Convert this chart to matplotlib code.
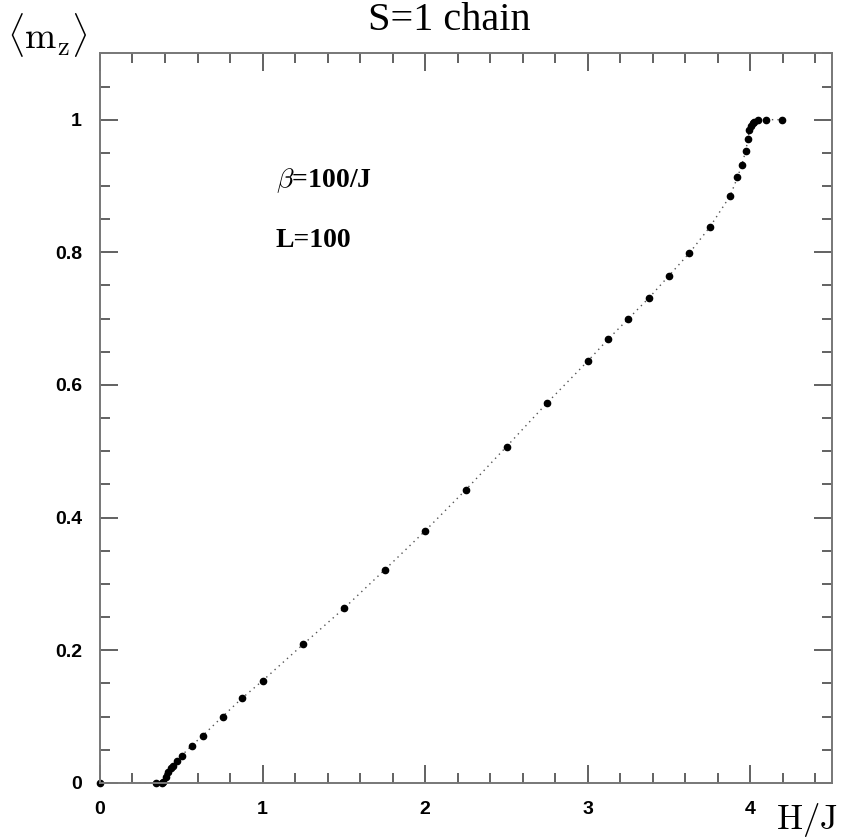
import matplotlib
matplotlib.use("Agg")
import matplotlib.pyplot as plt
from matplotlib.ticker import MultipleLocator, FormatStrFormatter

plt.rcParams["mathtext.fontset"] = "cm"

# magnetization curve of the S=1 chain, beta=100/J, L=100
field = [0.0, 0.344, 0.38, 0.389, 0.406, 0.42, 0.434, 0.45, 0.475, 0.502,
         0.563, 0.631, 0.754, 0.875, 1.0, 1.25, 1.5, 1.75, 2.0, 2.25,
         2.5, 2.75, 3.0, 3.125, 3.25, 3.375, 3.5, 3.625, 3.75, 3.875,
         3.92, 3.946, 3.971, 3.985, 3.993, 4.004, 4.014, 4.024, 4.047,
         4.096, 4.194]
mz = [0.0, 0.0, 0.0, 0.002, 0.009, 0.016, 0.022, 0.026, 0.033, 0.041,
      0.056, 0.071, 0.1, 0.128, 0.154, 0.209, 0.263, 0.321, 0.38, 0.442,
      0.507, 0.573, 0.636, 0.669, 0.7, 0.731, 0.765, 0.799, 0.838, 0.885,
      0.913, 0.931, 0.953, 0.971, 0.984, 0.991, 0.995, 0.997, 1.0,
      1.0, 1.0]

fig = plt.figure(figsize=(8.47, 8.4), dpi=100)
ax = fig.add_axes([0.118, 0.068, 0.864, 0.8685])

ax.plot(field, mz, linestyle=(0, (1, 3)), lw=1.0, color="#555555")
ax.plot(field, mz, "o", ms=4.5, color="black", mec="black", clip_on=False)

ax.set_xlim(0, 4.5)
ax.set_ylim(0, 1.1)
ax.xaxis.set_major_locator(MultipleLocator(1))
ax.xaxis.set_minor_locator(MultipleLocator(0.2))
ax.yaxis.set_major_locator(MultipleLocator(0.2))
ax.yaxis.set_minor_locator(MultipleLocator(0.05))
ax.xaxis.set_major_formatter(FormatStrFormatter("%g"))
ax.yaxis.set_major_formatter(FormatStrFormatter("%g"))

for s in ax.spines.values():
    s.set_color("#777777")
    s.set_linewidth(1.4)
ax.tick_params(which="both", direction="in", top=True, right=True,
               color="#555555", width=1.3)
ax.tick_params(which="major", length=13, labelsize=14, pad=13)
ax.tick_params(which="minor", length=7.5)
for lab in ax.get_xticklabels() + ax.get_yticklabels():
    lab.set_fontfamily("Liberation Sans")
    lab.set_fontweight("bold")

fig.text(0.53, 0.975, "S=1 chain", family="Liberation Serif", fontsize=29,
         ha="center", va="center")
fig.text(0.008, 0.958, r"$\langle\mathrm{m_z}\rangle$", fontsize=27,
         ha="left", va="center")
fig.text(0.953, 0.024, r"$\mathrm{H/J}$", fontsize=25, ha="center",
         va="center")

ax.text(0.24, 0.826, r"$\beta$=100/J", transform=ax.transAxes,
        family="Liberation Serif", fontsize=20, fontweight="bold",
        ha="left", va="center")
ax.text(0.24, 0.744, "L=100", transform=ax.transAxes,
        family="Liberation Serif", fontsize=20, fontweight="bold",
        ha="left", va="center")

fig.savefig("out.png", dpi=100)
